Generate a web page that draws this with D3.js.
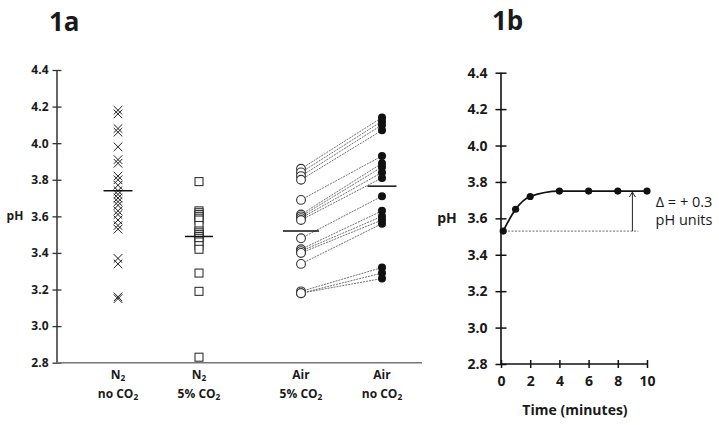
<!DOCTYPE html>
<html><head><meta charset="utf-8">
<script src="https://cdn.jsdelivr.net/npm/d3@7/dist/d3.min.js"></script>
<style>
body{margin:0;background:#fff;}
svg{font-family:"Open Sans",sans-serif;}
</style></head>
<body><svg id="c" width="719" height="425"></svg>
<script>
// ---------- DATA ----------
const categories = ["N2 no CO2", "N2 5% CO2", "Air 5% CO2", "Air no CO2"];
const catLine1 = ["N_2", "N_2", "Air", "Air"];
const catLine2 = ["no CO_2", "5% CO_2", "5% CO_2", "no CO_2"];
const n2NoCO2 = [4.18,4.16,4.08,4.06,3.98,3.91,3.89,3.82,3.80,3.77,3.74,3.72,3.70,3.68,3.66,3.63,3.61,3.58,3.55,3.53,3.37,3.34,3.16,3.15];
const n2CO2 = [3.79,3.63,3.62,3.61,3.60,3.59,3.58,3.55,3.52,3.51,3.50,3.49,3.48,3.46,3.44,3.42,3.29,3.19,2.83];
const air5CO2 = [3.86,3.84,3.82,3.80,3.69,3.61,3.60,3.59,3.58,3.48,3.42,3.41,3.40,3.34,3.19,3.18,3.18];
const airNoCO2 = [4.14,4.12,4.10,4.07,3.93,3.89,3.87,3.84,3.81,3.71,3.63,3.60,3.58,3.56,3.32,3.29,3.26];
const groupMeans = [3.74, 3.49, 3.52, 3.765];
const yTicks = [2.8,3.0,3.2,3.4,3.6,3.8,4.0,4.2,4.4];
const timeMin = [0.15,1,2,4,6,8,10];
const timePH = [3.53,3.65,3.72,3.75,3.75,3.75,3.75];
const timeTicks = [0,2,4,6,8,10];
const baselinePH = 3.53, plateauPH = 3.75, arrowTime = 9;
const deltaText = ["\u0394 = + 0.3", "pH units"];

// ---------- SETUP ----------
const svg = d3.select("#c");
const ink = "#1a1a1a";
const FONT = "'Open Sans', sans-serif";

function subText(sel, str){
  const parts = str.split("_");
  sel.append("tspan").text(parts[0]);
  if(parts.length>1){
    sel.append("tspan").attr("dy",2).attr("font-size","0.7em").text(parts[1]);
  }
}

// ---------- PANEL 1a ----------
const yA = d3.scaleLinear().domain([2.8,4.4]).range([362.7,70]);
const xA = d3.scaleOrdinal().domain(categories).range([118,199,301,382]);

svg.append("text").attr("x",49).attr("y",31).attr("font-size",26).attr("font-weight","bold").attr("fill",ink).text("1a");

const axA = svg.append("g").attr("transform","translate(57,0)")
  .call(d3.axisLeft(yA).tickValues(yTicks).tickFormat(d3.format(".1f")).tickSize(4.5).tickPadding(4));
axA.select(".domain").attr("stroke","#333").attr("stroke-width",1.5).attr("d","M0,70V362.7");
axA.selectAll(".tick line").attr("stroke","#333").attr("stroke-width",1.3).attr("x2",4.5).attr("x1",-4.5);
axA.selectAll(".tick text").attr("font-size",12).attr("font-weight","bold").attr("fill",ink).attr("font-family",FONT);
// x axis line
svg.append("line").attr("x1",57).attr("x2",422).attr("y1",yA(2.8)).attr("y2",yA(2.8)).attr("stroke","#777").attr("stroke-width",1.5);

svg.append("text").attr("x",15).attr("y",220).attr("text-anchor","middle").attr("font-size",12).attr("font-weight","bold").attr("fill",ink).text("pH");

categories.forEach((c,i)=>{
  const t1 = svg.append("text").attr("x",xA(c)).attr("y",379).attr("text-anchor","middle").attr("font-size",12).attr("font-weight","bold").attr("fill",ink);
  subText(t1, catLine1[i]);
  const t2 = svg.append("text").attr("x",xA(c)).attr("y",398).attr("text-anchor","middle").attr("font-size",12).attr("font-weight","bold").attr("fill",ink);
  subText(t2, catLine2[i]);
});

// paired dashed lines
const pairs = air5CO2.map((v,i)=>[v, airNoCO2[i]]);
svg.append("g").selectAll("line").data(pairs).join("line")
  .attr("x1",xA(categories[2])).attr("x2",xA(categories[3]))
  .attr("y1",d=>yA(d[0])).attr("y2",d=>yA(d[1]))
  .attr("stroke","#333").attr("stroke-width",0.7).attr("stroke-dasharray","2,1");

// X markers
svg.append("g").selectAll("path").data(n2NoCO2).join("path")
  .attr("transform",d=>`translate(${xA(categories[0])},${yA(d)})`)
  .attr("d","M-4.3,-4.3L4.3,4.3M-4.3,4.3L4.3,-4.3")
  .attr("stroke","#222").attr("stroke-width",1).attr("fill","none");
// squares
svg.append("g").selectAll("rect").data(n2CO2).join("rect")
  .attr("x",xA(categories[1])-4).attr("y",d=>yA(d)-4).attr("width",8).attr("height",8)
  .attr("fill","#fff").attr("stroke","#333").attr("stroke-width",1.1);
// open circles
svg.append("g").selectAll("circle").data(air5CO2).join("circle")
  .attr("cx",xA(categories[2])).attr("cy",d=>yA(d)).attr("r",4.4)
  .attr("fill","#fff").attr("stroke","#333").attr("stroke-width",1.1);
// filled circles
svg.append("g").selectAll("circle").data(airNoCO2).join("circle")
  .attr("cx",xA(categories[3])).attr("cy",d=>yA(d)).attr("r",4)
  .attr("fill","#111");
// mean lines
const meanHalf = [14.5,14,18,14.5];
svg.append("g").selectAll("line").data(groupMeans).join("line")
  .attr("x1",(d,i)=>xA(categories[i])-meanHalf[i]).attr("x2",(d,i)=>xA(categories[i])+meanHalf[i])
  .attr("y1",d=>yA(d)).attr("y2",d=>yA(d))
  .attr("stroke","#111").attr("stroke-width",1.5);

// ---------- PANEL 1b ----------
const yB = d3.scaleLinear().domain([2.8,4.4]).range([364,72.7]);
const xB = d3.scaleLinear().domain([0,10]).range([501,647]);

svg.append("text").attr("x",492).attr("y",30).attr("font-size",26).attr("font-weight","bold").attr("fill",ink).text("1b");

const axBy = svg.append("g").attr("transform","translate(501,0)")
  .call(d3.axisLeft(yB).tickValues(yTicks).tickFormat(d3.format(".1f")).tickSize(5.5).tickPadding(8));
axBy.select(".domain").attr("stroke","#111").attr("stroke-width",1.6).attr("d","M0,72.7V364");
axBy.selectAll(".tick line").attr("stroke","#111").attr("stroke-width",1.5).attr("x1",-5.5).attr("x2",5.5);
axBy.selectAll(".tick text").attr("font-size",14).attr("font-weight","bold").attr("fill",ink).attr("font-family",FONT);

const axBx = svg.append("g").attr("transform",`translate(0,${yB(2.8)})`)
  .call(d3.axisBottom(xB).tickValues(timeTicks).tickSize(4).tickPadding(8));
axBx.select(".domain").attr("stroke","#111").attr("stroke-width",1.6).attr("d","M501,0H647");
axBx.selectAll(".tick line").attr("stroke","#111").attr("stroke-width",1.5).attr("y1",-4).attr("y2",4);
axBx.selectAll(".tick text").attr("font-size",14).attr("font-weight","bold").attr("fill",ink).attr("font-family",FONT);

svg.append("text").attr("x",575).attr("y",415).attr("text-anchor","middle").attr("font-size",14).attr("font-weight","bold").attr("fill",ink).text("Time (minutes)");
svg.append("text").attr("x",447).attr("y",223).attr("text-anchor","middle").attr("font-size",14).attr("font-weight","bold").attr("fill",ink).text("pH");

// baseline dashed
svg.append("line").attr("x1",xB(0)).attr("x2",xB(9.4)).attr("y1",yB(baselinePH)).attr("y2",yB(baselinePH))
  .attr("stroke","#444").attr("stroke-width",0.8).attr("stroke-dasharray","2,1.5");
// arrow
svg.append("line").attr("x1",xB(arrowTime)).attr("x2",xB(arrowTime)).attr("y1",yB(baselinePH)).attr("y2",yB(plateauPH)+1)
  .attr("stroke","#222").attr("stroke-width",1);
svg.append("path").attr("d",`M${xB(arrowTime)-3},${yB(plateauPH)+6}L${xB(arrowTime)},${yB(plateauPH)+1}L${xB(arrowTime)+3},${yB(plateauPH)+6}`)
  .attr("fill","none").attr("stroke","#222").attr("stroke-width",1);

const pts = timeMin.map((t,i)=>[t,timePH[i]]);
svg.append("path").datum(pts)
  .attr("d",d3.line().x(d=>xB(d[0])).y(d=>yB(d[1])).curve(d3.curveMonotoneX))
  .attr("fill","none").attr("stroke","#111").attr("stroke-width",1.8);
svg.append("g").selectAll("circle").data(pts).join("circle")
  .attr("cx",d=>xB(d[0])).attr("cy",d=>yB(d[1])).attr("r",3.6).attr("fill","#111");

svg.append("text").attr("x",684).attr("y",207).attr("text-anchor","middle").attr("font-size",14.5).attr("fill",ink).text(deltaText[0]);
svg.append("text").attr("x",684).attr("y",225).attr("text-anchor","middle").attr("font-size",14.5).attr("fill",ink).text(deltaText[1]);
</script>
</body></html>
